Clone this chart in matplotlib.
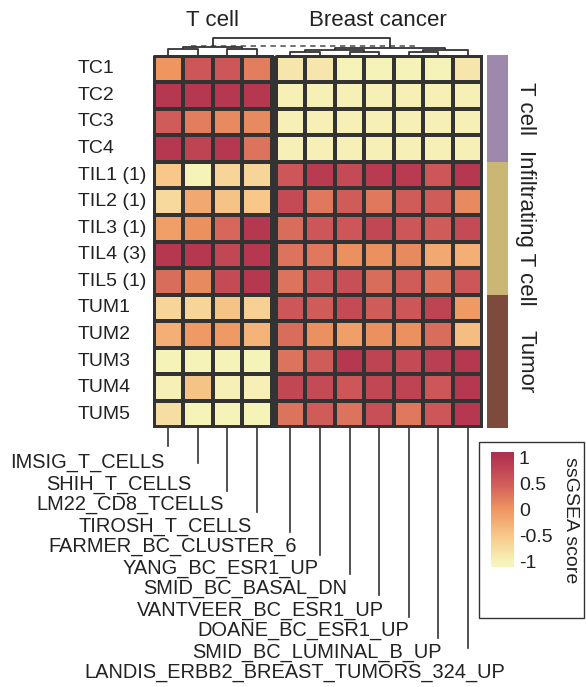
import numpy as np
import matplotlib
matplotlib.use("Agg")
import matplotlib.pyplot as plt
from matplotlib.colors import LinearSegmentedColormap, Normalize
from matplotlib.patches import Rectangle
from matplotlib.transforms import blended_transform_factory
import matplotlib.cm as cm

plt.rcParams["font.family"] = ["Liberation Sans", "DejaVu Sans"]

# rows / columns
row_labels = ["TC1", "TC2", "TC3", "TC4", "TIL1 (1)", "TIL2 (1)", "TIL3 (1)",
              "TIL4 (3)", "TIL5 (1)", "TUM1", "TUM2", "TUM3", "TUM4", "TUM5"]
col_labels = ["IMSIG_T_CELLS", "SHIH_T_CELLS", "LM22_CD8_TCELLS", "TIROSH_T_CELLS",
              "FARMER_BC_CLUSTER_6", "YANG_BC_ESR1_UP", "SMID_BC_BASAL_DN",
              "VANTVEER_BC_ESR1_UP", "DOANE_BC_ESR1_UP", "SMID_BC_LUMINAL_B_UP",
              "LANDIS_ERBB2_BREAST_TUMORS_324_UP"]
col_groups = ["T cell", "Breast cancer"]
col_group_sizes = [4, 7]
row_groups = ["T cell", "Infiltrating T cell", "Tumor"]
row_group_sizes = [4, 5, 5]
row_group_colors = ["#9c89ab", "#cab775", "#7c4b3e"]

# ssGSEA scores
tcell_scores = np.array([
    [0.0, 0.55, 0.55, 0.2],
    [0.95, 0.95, 0.95, 0.95],
    [0.5, 0.2, 0.1, 0.1],
    [0.95, 0.8, 0.95, 0.3],
    [-0.5, -1.0, -0.65, -0.65],
    [-0.7, -0.2, -0.45, -0.5],
    [-0.1, 0.05, 0.4, 0.95],
    [0.95, 0.95, 0.75, 0.95],
    [0.35, 0.1, 0.7, 0.95],
    [-0.65, -0.65, -0.45, -0.6],
    [-0.25, -0.05, -0.05, -0.3],
    [-1.0, -1.0, -1.0, -1.0],
    [-0.97, -0.45, -0.97, -0.97],
    [-0.75, -1.0, -1.0, -1.0],
])
bc_scores = np.array([
    [-0.85, -0.85, -1.0, -1.0, -1.0, -1.0, -0.85],
    [-0.97, -0.97, -0.97, -0.97, -0.97, -0.97, -0.97],
    [-0.97, -0.97, -0.97, -0.97, -0.97, -0.97, -0.97],
    [-0.97, -0.97, -0.97, -0.97, -0.97, -0.97, -0.97],
    [0.55, 0.9, 0.7, 0.9, 0.9, 0.55, 0.95],
    [0.7, 0.25, 0.5, 0.25, 0.5, 0.5, 0.1],
    [0.35, 0.55, 0.55, 0.75, 0.55, 0.5, 0.7],
    [0.3, 0.25, 0.05, 0.05, 0.1, -0.2, -0.25],
    [0.3, 0.55, 0.65, 0.35, 0.5, 0.3, 0.55],
    [0.55, 0.5, 0.7, 0.5, 0.55, 0.8, -0.05],
    [0.35, 0.05, -0.1, 0.05, 0.05, 0.35, -0.4],
    [0.3, 0.5, 0.95, 0.8, 0.7, 0.85, 0.95],
    [0.75, 0.7, 0.55, 0.75, 0.8, 0.55, 0.95],
    [0.3, 0.5, 0.3, 0.65, 0.25, 0.55, 0.95],
])

# column dendrogram merges: (child a, child b, height); leaves are 0..10
merges = [(0, 1, 6), (2, 3, 6), (11, 12, 8),
          (4, 5, 3.5), (6, 7, 3.5), (14, 15, 5),
          (8, 9, 3.5), (17, 10, 5.5), (16, 18, 7),
          (13, 19, 17)]
cut_height = 9

W, H = 586, 687
fig = plt.figure(figsize=(W / 100, H / 100), dpi=100)


def box(x0, y0, x1, y1):
    return [x0 / W, 1 - y1 / H, (x1 - x0) / W, (y1 - y0) / H]


cmap = LinearSegmentedColormap.from_list("ss", [
    (0.0, "#f7f5be"), (0.045, "#f6f3b9"), (0.27, "#f7c88a"), (0.5, "#ee9560"),
    (0.727, "#d05c59"), (0.955, "#b2334f"), (1.0, "#ad2d4d")])
norm = Normalize(-1.1, 1.1)

gap = 0.135
nrow = len(row_labels)
edge = "#333333"
txt = "#222222"

ax = fig.add_axes(box(153, 55, 483, 428))
x_left = np.arange(col_group_sizes[0] + 1)
x_right = np.arange(col_group_sizes[1] + 1) + col_group_sizes[0] + gap
y_edges = np.arange(nrow + 1)
ax.pcolormesh(x_left, y_edges, tcell_scores, cmap=cmap, norm=norm,
              edgecolors=edge, linewidth=1.5)
ax.pcolormesh(x_right, y_edges, bc_scores, cmap=cmap, norm=norm,
              edgecolors=edge, linewidth=1.5)
for xs in (x_left, x_right):
    ax.add_patch(Rectangle((xs[0], 0), xs[-1] - xs[0], nrow, fill=False,
                           edgecolor=edge, linewidth=1.8, zorder=5))
xmax = x_right[-1]
ax.set_xlim(-0.02, xmax + 0.02)
ax.set_ylim(nrow + 0.02, -0.02)
ax.axis("off")

col_centers = np.concatenate([x_left[:-1] + 0.5, x_right[:-1] + 0.5])

# row labels
tr = blended_transform_factory(fig.transFigure, ax.transData)
for i, lab in enumerate(row_labels):
    fig.text(78 / W, i + 0.5, lab, transform=tr, ha="left", va="center",
             fontsize=14, color=txt)

# column dendrogram
dax = fig.add_axes(box(153, 35, 483, 55))
dax.set_xlim(ax.get_xlim())
dax.set_ylim(0, 20)
dax.axis("off")
pos = {i: (x, 0.0) for i, x in enumerate(col_centers)}
nid = len(col_centers)
for a, b, h in merges:
    xa, ha_ = pos[a]
    xb, hb = pos[b]
    dax.plot([xa, xa, xb, xb], [ha_, h, h, hb], color=edge, lw=1.3,
             solid_capstyle="butt", clip_on=False)
    pos[nid] = ((xa + xb) / 2, h)
    nid += 1
dax.plot([1.25, 9.0], [cut_height, cut_height], color="#666666", lw=1.3,
         ls=(0, (3, 2.5)), zorder=0)

# column group titles
fig.text(212 / W, 1 - 20 / H, col_groups[0], ha="center", va="center",
         fontsize=16, color=txt)
fig.text(378 / W, 1 - 20 / H, col_groups[1], ha="center", va="center",
         fontsize=16, color=txt)

# row annotation bar
sax = fig.add_axes(box(487, 55, 508, 428))
bottom = 0
for name, size, color in zip(row_groups, row_group_sizes, row_group_colors):
    sax.bar(0.5, size, bottom=bottom, width=1, color=color, edgecolor="none")
    sax.text(1.85, bottom + size / 2, name, rotation=-90, ha="center",
             va="center", fontsize=16, color=txt,
             transform=blended_transform_factory(sax.transAxes, sax.transData))
    bottom += size
sax.set_xlim(0, 1)
sax.set_ylim(nrow, 0)
sax.axis("off")

# column labels with leader lines
lax = fig.add_axes(box(153, 428, 483, 687))
lax.set_xlim(ax.get_xlim())
lax.set_ylim(259, 0)
lax.axis("off")
line_ends = [18, 35, 63, 84, 104, 127, 146, 167, 189, 210, 220]
label_y = [34, 56, 77, 98, 118, 140, 161, 182, 203, 224, 245]
label_dx = [-4, -7, -4, -5, 6, -1, -2, 5, 1, 4, 38]
for x, lab, ye, yl, dx in zip(col_centers, col_labels, line_ends, label_y, label_dx):
    lax.plot([x, x], [0, ye], color=edge, lw=1.2)
    lax.text(x + dx / 29.6, yl, lab, ha="right", va="center", fontsize=14.4,
             color=txt)

# legend box with colour bar
fig.patches.append(Rectangle((479 / W, 1 - 618 / H), 105 / W, 176 / H,
                             transform=fig.transFigure, fill=False,
                             edgecolor="#333333", linewidth=1.0))
cax = fig.add_axes(box(491, 452, 514, 567))
cb = fig.colorbar(cm.ScalarMappable(norm=norm, cmap=cmap), cax=cax,
                  ticks=[-1, -0.5, 0, 0.5, 1])
cb.outline.set_visible(False)
cb.ax.set_yticklabels(["-1", "-0.5", "0", "0.5", "1"])
cb.ax.tick_params(length=0, pad=3.5, labelsize=14, labelcolor=txt)
fig.text(570 / W, 1 - 520 / H, "ssGSEA score", rotation=-90, ha="center",
         va="center", fontsize=14, color=txt)

fig.savefig("out.png", dpi=100)
